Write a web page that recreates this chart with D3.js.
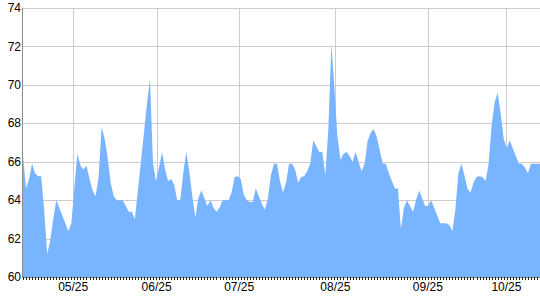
<!DOCTYPE html>
<html>
<head>
<meta charset="utf-8">
<script src="https://cdn.jsdelivr.net/npm/d3@7"></script>
<style>
  html, body { margin: 0; padding: 0; background: #fff; }
  svg { display: block; font-family: Arial, "Liberation Sans", sans-serif; }
</style>
</head>
<body>
<div id="graph"></div>
<script>
// one value per data point (index based category axis)
var values = [
  66.3, 64.6, 65.1, 65.9, 65.4, 65.25, 65.25, 63.5, 61.2, 61.9,
  63.0, 64.0, 63.6, 63.2, 62.8, 62.4, 62.8, 64.7, 66.4, 65.8,
  65.6, 65.8, 65.1, 64.5, 64.2, 65.2, 67.8, 67.2, 66.2, 64.9,
  64.2, 64.0, 64.0, 64.0, 63.7, 63.4, 63.4, 63.0, 64.5, 66.0,
  67.5, 69.0, 70.3, 65.9, 65.0, 65.7, 66.5, 65.6, 65.0, 65.1,
  64.8, 64.0, 64.0, 65.4, 66.5, 65.5, 64.2, 63.1, 64.1, 64.5,
  64.1, 63.7, 64.0, 63.6, 63.4, 63.6, 64.0, 64.0, 64.0, 64.4,
  65.2, 65.25, 65.1, 64.3, 64.0, 63.9, 63.9, 64.6, 64.2, 63.8,
  63.5, 64.1, 65.3, 65.9, 65.9, 65.0, 64.4, 64.9, 65.9, 65.9,
  65.6, 64.9, 65.2, 65.25, 65.5, 65.9, 67.1, 66.8, 66.5, 66.5,
  65.3, 67.7, 72.1, 69.8, 67.3, 66.1, 66.4, 66.5, 66.3, 66.0,
  66.5, 66.0, 65.5, 65.9, 67.1, 67.5, 67.7, 67.3, 66.6, 65.9,
  65.9, 65.4, 65.0, 64.6, 64.6, 62.5, 63.6, 64.0, 63.7, 63.4,
  64.0, 64.5, 64.1, 63.7, 63.7, 64.0, 63.6, 63.2, 62.8, 62.8,
  62.8, 62.7, 62.4, 63.5, 65.4, 65.9, 65.3, 64.6, 64.4, 64.9,
  65.2, 65.25, 65.2, 65.0, 65.9, 67.9, 69.1, 69.6, 68.5, 67.2,
  66.7, 67.1, 66.7, 66.3, 65.9, 65.9, 65.7, 65.4, 65.9, 65.9,
  65.9, 65.9
];

// date labels and the data index where each one falls
var tickLabels = ["05/25", "06/25", "07/25", "08/25", "09/25", "10/25"];
var tickIndex = [16.6, 44.2, 71.5, 103.3, 133.9, 159.9];

var yTicks = [60, 62, 64, 66, 68, 70, 72, 74];

var W = 540, H = 300;
var plotLeft = 23, plotRight = 540, plotTop = 8, plotBottom = 277;

var svg = d3.select("#graph").append("svg").attr("width", W).attr("height", H);

var x = d3.scaleLinear().domain([0, values.length - 1]).range([plotLeft, plotRight]);
var y = d3.scaleLinear().domain([60, 74]).range([plotBottom, plotTop]);

function px(v) { return Math.round(v) + 0.5; }

// grid
svg.append("g").selectAll("line").data(yTicks).enter().append("line")
  .attr("x1", plotLeft).attr("x2", plotRight)
  .attr("y1", function(d){ return px(y(d)); })
  .attr("y2", function(d){ return px(y(d)); })
  .attr("stroke", "#cccccc");

svg.append("g").selectAll("line").data(tickIndex).enter().append("line")
  .attr("x1", function(d){ return px(x(d)); })
  .attr("x2", function(d){ return px(x(d)); })
  .attr("y1", plotTop).attr("y2", plotBottom)
  .attr("stroke", "#cccccc");

// area
var area = d3.area()
  .x(function(d, i){ return x(i); })
  .y0(y(60))
  .y1(function(d){ return y(d); });

svg.append("path").datum(values)
  .attr("d", area)
  .attr("fill", "#78b4ff");

// left axis
svg.append("line")
  .attr("x1", px(plotLeft - 1)).attr("x2", px(plotLeft - 1))
  .attr("y1", plotTop).attr("y2", plotBottom + 1)
  .attr("stroke", "#8c8c8c");

svg.append("g").selectAll("text").data(yTicks).enter().append("text")
  .attr("x", 21)
  .attr("y", function(d){ return y(d); })
  .attr("dy", "0.35em")
  .attr("text-anchor", "end")
  .attr("font-size", 12)
  .attr("fill", "#000")
  .text(function(d){ return d; });

// bottom axis: one small tick for every point
svg.append("line")
  .attr("x1", plotLeft - 1).attr("x2", plotRight)
  .attr("y1", px(plotBottom)).attr("y2", px(plotBottom))
  .attr("stroke", "#8c8c8c");

svg.append("g").selectAll("line").data(values).enter().append("line")
  .attr("x1", function(d, i){ return px(x(i)); })
  .attr("x2", function(d, i){ return px(x(i)); })
  .attr("y1", plotBottom).attr("y2", plotBottom + 3)
  .attr("stroke", "#222");

svg.append("g").selectAll("text").data(tickIndex).enter().append("text")
  .attr("x", function(d){ return x(d); })
  .attr("y", 291)
  .attr("text-anchor", "middle")
  .attr("font-size", 12)
  .attr("fill", "#000")
  .text(function(d, i){ return tickLabels[i]; });
</script>
</body>
</html>
